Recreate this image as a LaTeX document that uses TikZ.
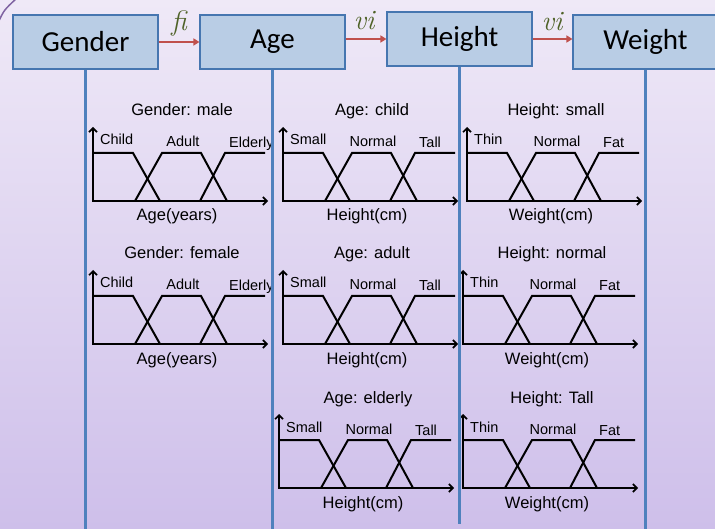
\documentclass[tikz,border=0pt]{standalone}
\usepackage{fontspec}
\setmainfont{Liberation Sans}
\newfontfamily\boxfont{Carlito}
\newfontfamily\linkfont{Latin Modern Roman}
\usetikzlibrary{arrows.meta}

\definecolor{bgtop}{RGB}{239,233,247}
\definecolor{bgbot}{RGB}{206,191,234}
\definecolor{boxfill}{RGB}{185,205,229}
\definecolor{boxline}{RGB}{70,118,176}
\definecolor{laneblue}{RGB}{79,129,189}
\definecolor{linkred}{RGB}{192,80,77}
\definecolor{labgreen}{RGB}{79,98,40}
\definecolor{framepurple}{RGB}{128,100,162}

\tikzset{
  stage/.style={draw=boxline, line width=1.1pt, fill=boxfill,
    minimum width=145pt, minimum height=54pt, inner sep=0pt,
    font=\boxfont\fontsize{29}{29}\selectfont},
  lane/.style={draw=laneblue, line width=3pt},
  link/.style={draw=linkred, line width=1.5pt,
    -{Triangle[length=6pt,width=7pt]}},
  linklabel/.style={text=labgreen, inner sep=0pt,
    font=\linkfont\itshape\fontsize{28}{28}\selectfont},
  axisline/.style={line width=2pt, -{Straight Barb[length=4pt,width=8pt,line width=1.6pt]}},
  mfline/.style={line width=2pt, line join=miter},
  charttitle/.style={inner sep=0pt, font=\fontsize{16.5}{16.5}\selectfont},
  termlabel/.style={inner sep=0pt, font=\fontsize{14.5}{14.5}\selectfont},
}

% one membership-function chart: #1 name, #2 origin, #3 title,
% #4 axis label, #5-#7 term labels
\newcommand\fuzzychart[7]{%
  \begin{scope}[shift={#2}]
    \draw[mfline] (0,-48) -- (40,-48) -- (67,0);
    \draw[mfline] (42,0) -- (69,-48) -- (108,-48) -- (134,0);
    \draw[mfline] (107,0) -- (132,-48) -- (172,-48);
    \draw[axisline] (0,0) -- (0,-74);
    \draw[axisline] (-1,0) -- (175,0);
    \node[charttitle, anchor=base] (#1-title) at (89,-85) {#3};
    \node[termlabel, anchor=base west] (#1-a) at (7,-56) {#5};
    \node[termlabel, anchor=base] (#1-b) at (90,-54) {#6};
    \node[termlabel, anchor=base west] (#1-c) at (136,-53) {#7};
    \node[charttitle, anchor=base] (#1-axis) at (84,20) {#4};
  \end{scope}}

\begin{document}
\begin{tikzpicture}[x=1pt, y=-1pt]
  \useasboundingbox (0,0) rectangle (715,529);
  \fill[top color=bgtop, bottom color=bgbot] (0,0) rectangle (715,529);
  \draw[framepurple, line width=1.5pt] (-2,23) .. controls (4,10) .. (17,-2);

  % stages
  \node[stage] (gender) at (85.5,42) {Gender};
  \node[stage] (age)    at (272.5,42) {Age};
  \node[stage] (height) at (459.5,39) {Height};
  \node[stage] (weight) at (645.5,42) {Weight};

  \draw[link] (gender.east) -- (age.west);
  \draw[link] (age.east |- height.west) -- (height.west);
  \draw[link] (height.east) -- (weight.west |- height.east);

  \node[linklabel] (fi)  at (179,24) {fi};
  \node[linklabel] (vi1) at (364,21) {vi};
  \node[linklabel] (vi2) at (552,22) {vi};

  % charts
  \fuzzychart{gm}{(93,201)}{Gender: male}{Age(years)}{Child}{Adult}{Elderly}
  \fuzzychart{gf}{(93,344)}{Gender: female}{Age(years)}{Child}{Adult}{Elderly}
  \fuzzychart{ac}{(283,201)}{Age: child}{Height(cm)}{Small}{Normal}{Tall}
  \fuzzychart{aa}{(283,344)}{Age: adult}{Height(cm)}{Small}{Normal}{Tall}
  \fuzzychart{ae}{(279,488)}{Age: elderly}{Height(cm)}{Small}{Normal}{Tall}
  \fuzzychart{hs}{(467,201)}{Height: small}{Weight(cm)}{Thin}{Normal}{Fat}
  \fuzzychart{hn}{(463,344)}{Height: normal}{Weight(cm)}{Thin}{Normal}{Fat}
  \fuzzychart{ht}{(463,488)}{Height: Tall}{Weight(cm)}{Thin}{Normal}{Fat}

  % lanes below the stages
  \coordinate (gender-end) at (85.5,530);
  \coordinate (age-end)    at (272.5,530);
  \coordinate (height-end) at (459.5,524);
  \coordinate (weight-end) at (645.5,530);
  \draw[lane] (gender.south) -- (gender-end);
  \draw[lane] (age.south) -- (age-end);
  \draw[lane] (height.south) -- (height-end);
  \draw[lane] (weight.south) -- (weight-end);
\end{tikzpicture}
\end{document}
